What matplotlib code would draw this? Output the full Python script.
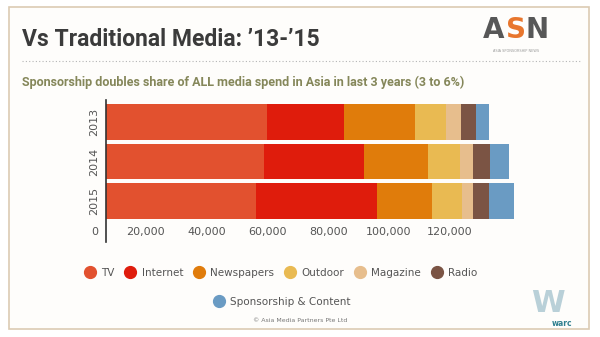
import matplotlib.pyplot as plt
import numpy as np
from matplotlib.lines import Line2D
from matplotlib.patches import Rectangle

# === DATA (US$ m) ===
years = ["2013", "2014", "2015"]
media = ["TV", "Internet", "Newspapers", "Outdoor", "Magazine", "Radio", "Sponsorship & Content"]
tv = [59800, 59000, 56200]
internet = [25500, 32800, 39800]
newspapers = [23300, 21100, 18000]
outdoor = [10200, 10500, 9900]
magazine = [4900, 4300, 3800]
radio = [4900, 5500, 5300]
sponsorship = [4400, 6300, 8200]
xticks = [20000, 40000, 60000, 80000, 100000, 120000]

colors = ["#e2512f", "#df1c0c", "#e07c0b", "#e9ba52", "#e7be8d", "#7b5444", "#6a9bc3"]
series = [tv, internet, newspapers, outdoor, magazine, radio, sponsorship]

fig = plt.figure(figsize=(6, 3.37), dpi=100)
fig.patch.set_facecolor("white")

# frame of the slide
fig.patches.append(Rectangle((9 / 600, 1 - 329 / 337), 580 / 600, 322 / 337,
                             transform=fig.transFigure, facecolor="#fefdfb",
                             edgecolor="#dccbb3", linewidth=1.2, zorder=-5))

# titles
fig.text(22 / 600, 1 - 40 / 337, "Vs Traditional Media: \u201913-\u201915", fontsize=16.5,
         color="#3b3b3b", fontweight="bold", va="center", family="Roboto")
fig.add_artist(Line2D([22 / 600, 580 / 600], [1 - 61 / 337] * 2, transform=fig.transFigure,
                      color="#b5b5b5", linestyle=(0, (1, 2)), linewidth=0.8))
fig.text(22 / 600, 1 - 82 / 337,
         "Sponsorship doubles share of ALL media spend in Asia in last 3 years (3 to 6%)",
         fontsize=9.0, color="#85875a", fontweight="bold", va="center", family="Roboto")

# ASN logo
for letter, xc, c in zip("ASN", [494, 516, 537], ["#575757", "#e8762d", "#575757"]):
    fig.text(xc / 600, 1 - 30 / 337, letter, fontsize=20, fontweight="bold", color=c,
             ha="center", va="center", family="DejaVu Sans")
fig.text(516 / 600, 1 - 51 / 337, "ASIA SPONSORSHIP NEWS", fontsize=2.5, color="#999999",
         ha="center", va="center")

# === CHART ===
ax = fig.add_axes([106 / 600, 1 - 242 / 337, 440 / 600, 142 / 337])
ax.set_facecolor("none")
y = np.arange(len(years))
left = np.zeros(len(years))
for vals, c, name in zip(series, colors, media):
    ax.barh(y, vals, left=left, height=0.91, color=c, label=name, zorder=2)
    left += np.array(vals)

x0 = 6900  # axis line sits right of zero in the original
ax.set_xlim(x0, x0 + 440 / 3.04 * 1000)
ax.set_ylim(3.04, -0.557)
ax.set_yticks(y)
ax.set_yticklabels(years, rotation=90, va="center", fontsize=8, color="#555555")
ax.set_xticks(xticks)
ax.set_xticklabels([f"{v:,}" for v in xticks], fontsize=8, color="#555555")
ax.tick_params(axis="x", length=0, pad=-11)
ax.tick_params(axis="y", length=0, pad=5)
ax.text(-0.018, 0.07, "0", transform=ax.transAxes, fontsize=8, color="#555555",
        ha="right", va="center")
for s in ["top", "right", "bottom"]:
    ax.spines[s].set_visible(False)
ax.spines["left"].set_color("#333333")
ax.spines["left"].set_linewidth(1.2)

# === LEGEND ===
handles = [Line2D([], [], marker="o", linestyle="none", markersize=8.5,
                  markerfacecolor=c, markeredgecolor=c) for c in colors]
leg1 = fig.legend(handles[:6], media[:6], ncol=6, loc="center",
                  bbox_to_anchor=(281 / 600, 1 - 273 / 337), frameon=False,
                  fontsize=7.5, handletextpad=0.6, columnspacing=1.0, handlelength=1.0)
for t in leg1.get_texts():
    t.set_color("#555555")
leg2 = fig.legend(handles[6:], media[6:], loc="center",
                  bbox_to_anchor=(282 / 600, 1 - 302 / 337), frameon=False,
                  fontsize=7.5, handletextpad=0.6, handlelength=1.0)
for t in leg2.get_texts():
    t.set_color("#555555")

fig.text(300 / 600, 1 - 320 / 337, "\u00a9 Asia Media Partners Pte Ltd", fontsize=4.5,
         color="#777777", ha="center", va="center")

# warc logo
fig.text(548 / 600, 1 - 303 / 337, "W", fontsize=22, fontweight="bold", color="#b9d0d8",
         ha="center", va="center")
fig.text(562 / 600, 1 - 324 / 337, "warc", fontsize=5.5, fontweight="bold",
         color="#2f7f8f", ha="center", va="center")

fig.savefig("out.png", dpi=100)
